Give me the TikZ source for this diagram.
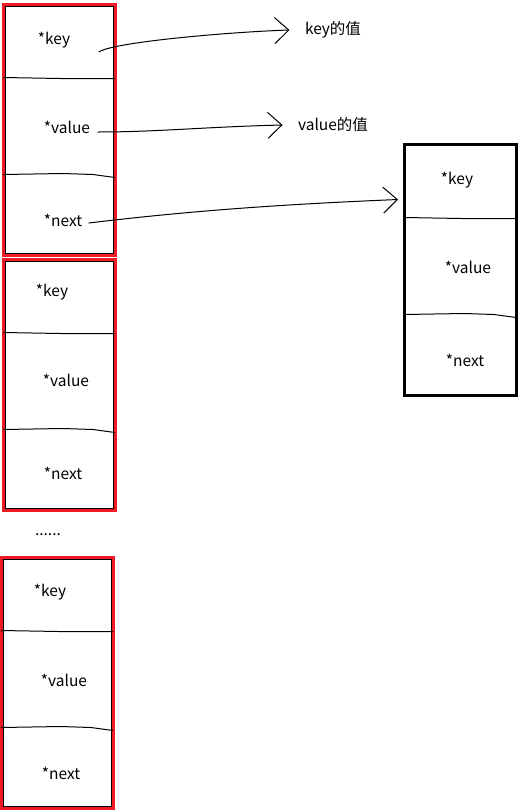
\documentclass[tikz,border=0pt]{standalone}
\usepackage{fontspec}
\setmainfont{Noto Sans CJK SC}
\usetikzlibrary{arrows.meta, calc}
\definecolor{paintred}{RGB}{237,28,36}

\begin{document}
\begin{tikzpicture}[x=1pt, y=-1pt, font=\fontsize{15.5}{18}\selectfont,
    entry/.style={outer sep=0pt, minimum width=112pt, minimum height=251pt, line width=3pt},
    ptr/.style={line width=1pt, -{Straight Barb[length=14pt, width=26pt, line width=1pt]}}]
  \useasboundingbox (0,0) rectangle (520,812);
  % the entries
  \node[entry, draw=paintred] (b1) at (59,130) {};
  \node[entry, draw=paintred] (b2) at (59,385) {};
  \node[entry, draw=paintred] (b3) at (57,683) {};
  \node[entry, draw=black] (br) at (460,270) {};
  % thin black edge under the red ones
  \foreach \b in {b1,b2,b3}
    \draw[line width=0.8pt] ([shift={(2,2)}]\b.north west) rectangle ([shift={(-2,-2)}]\b.south east);
  % hand drawn field lines
  \foreach \b in {b1,b2,b3,br} {
    \draw[line width=1pt] ([yshift=-73pt]\b.north west) -- ++(58,1) -- ++(54,0);
    \draw[line width=1pt] ([yshift=-170pt]\b.north west) -- ++(60,-1) -- ++(30,1) -- ++(22,3);
  }
  % first entry
  \node (k1) at (54,40) {*key};
  \node (v1) at (67,127) {*value};
  \node (n1) at (63,220) {*next};
  % second entry
  \node (k2) at (52,292) {*key};
  \node (v2) at (66,380) {*value};
  \node (n2) at (63,473) {*next};
  \node (dots) at (48,535) {......};
  % last entry
  \node (k3) at (50,592) {*key};
  \node (v3) at (64,680) {*value};
  \node (n3) at (61,773) {*next};
  % the entry that next points to
  \node (kr) at (457,180) {*key};
  \node (vr) at (468,267) {*value};
  \node (nr) at (465,360) {*next};
  % what the pointers hold
  \node (kv) at (333,30) {key的值};
  \node (vv) at (333,125) {value的值};
  \draw[ptr] ([shift={(25,12)}]k1.east) .. controls +(15,-10) and +(-60,2) .. ([xshift=-12pt]kv.west);
  \draw[ptr] ([shift={(4,5)}]v1.east) .. controls +(60,0) and +(-80,2) .. ([xshift=-12pt]vv.west);
  \draw[ptr] ([shift={(3,3)}]n1.east) .. controls +(100,-12) and +(-120,5) .. ([shift={(-6,55)}]br.north west);
\end{tikzpicture}
\end{document}
